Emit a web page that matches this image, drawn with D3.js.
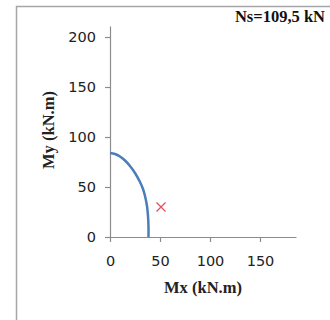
<!DOCTYPE html>
<html><head><meta charset="utf-8">
<script src="https://cdn.jsdelivr.net/npm/d3@7"></script>
<style>body{margin:0;background:#fff}svg{display:block}</style>
</head><body>
<svg id="c" width="330" height="320"></svg>
<script>
const curveMx = [0, 5, 10, 15, 20, 25, 30, 33, 35, 37, 38, 38.5, 38.5];
const curveMy = [84, 83, 80.5, 76.5, 71, 64, 55, 48, 41, 31, 21, 10, 0];
const pointMx = [51];
const pointMy = [30];
const xTicks = [0, 50, 100, 150];
const yTicks = [0, 50, 100, 150, 200];
const title = "Ns=109,5 kN";
const xLabel = "Mx (kN.m)";
const yLabel = "My (kN.m)";

const svg = d3.select("#c");
// outer frame
svg.append("path").attr("d","M16.5,330 V6.5 H340").attr("fill","none").attr("stroke","#a6a6a6").attr("stroke-width",1.5);

const x = d3.scaleLinear().domain([0,186]).range([110,296]);
const y = d3.scaleLinear().domain([0,211]).range([237,26]);

const gx = svg.append("g").attr("transform","translate(0,237)")
  .call(d3.axisBottom(x).tickValues(xTicks).tickSize(5).tickSizeOuter(0).tickPadding(14));
const gy = svg.append("g").attr("transform","translate(110,0)")
  .call(d3.axisLeft(y).tickValues(yTicks).tickSize(5).tickSizeOuter(0).tickPadding(9));
[gx,gy].forEach(g=>{
  g.select(".domain").attr("stroke","#8c8c8c").attr("stroke-width",1.2);
  g.selectAll(".tick line").attr("stroke","#8c8c8c").attr("stroke-width",1.2);
  g.selectAll(".tick text").attr("font-family","DejaVu Sans").attr("font-size",14.5).attr("fill","#222");
});

const data = curveMx.map((v,i)=>[v,curveMy[i]]);
svg.append("path").datum(data)
  .attr("d", d3.line().x(d=>x(d[0])).y(d=>y(d[1])).curve(d3.curveCatmullRom.alpha(0.5)))
  .attr("fill","none").attr("stroke","#4a7ebb").attr("stroke-width",2.5);

pointMx.forEach((v,i)=>{
  const px=x(v), py=y(pointMy[i]), s=4.5;
  svg.append("path").attr("d",`M${px-s},${py-s}L${px+s},${py+s}M${px-s},${py+s}L${px+s},${py-s}`)
    .attr("stroke","#e0505a").attr("stroke-width",1.3);
});

svg.append("text").attr("x",325).attr("y",21.5).attr("text-anchor","end")
  .attr("font-family","Liberation Serif").attr("font-weight","bold").attr("font-size",16.5).attr("fill","#111").text(title);
svg.append("text").attr("x",203).attr("y",293).attr("text-anchor","middle")
  .attr("font-family","Liberation Serif").attr("font-weight","bold").attr("font-size",16.5).attr("fill","#222").text(xLabel);
svg.append("text").attr("transform","translate(54,130) rotate(-90)").attr("text-anchor","middle")
  .attr("font-family","Liberation Serif").attr("font-weight","bold").attr("font-size",16.5).attr("fill","#222").text(yLabel);
</script>
</body></html>
